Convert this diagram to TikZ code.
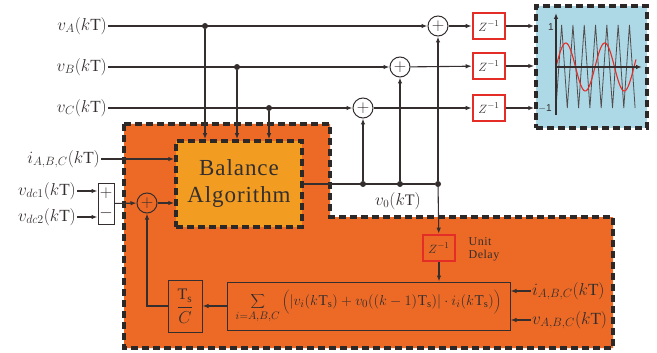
\documentclass[tikz,border=0pt]{standalone}
\usepackage{fontspec}
\setmainfont{Liberation Serif}
\setsansfont{Liberation Sans}
\usetikzlibrary{arrows.meta}
\definecolor{regionorange}{RGB}{236,106,38}
\definecolor{balorange}{RGB}{242,157,34}
\definecolor{plotblue}{RGB}{173,216,230}
\definecolor{zred}{RGB}{228,45,38}
\definecolor{wirecol}{RGB}{52,46,46}
\definecolor{dashcol}{RGB}{45,40,40}
\begin{document}
\begin{tikzpicture}[x=1pt, y=-1pt, >={Latex[length=6pt,width=4.5pt]},
      wire/.style={draw=wirecol, line width=1.1pt},
      dashbox/.style={draw=dashcol, line width=3.5pt, dash pattern=on 7pt off 4pt},
      lbl/.style={text=wirecol, inner sep=1pt, font=\fontsize{17}{20}\selectfont},
      zbox/.style={draw=zred, line width=2.6pt, fill=white, minimum width=32pt, minimum height=26pt, inner sep=0pt, text=wirecol, font=\fontsize{13}{15}\selectfont},
      sumnode/.style={circle, draw=wirecol, line width=1pt, minimum size=20pt, inner sep=0pt, text=wirecol, font=\fontsize{16}{16}\selectfont},
      dot/.style={circle, fill=wirecol, inner sep=0pt, minimum size=6pt},
      blockbox/.style={draw=wirecol, line width=1pt, inner sep=0pt, text=wirecol}]
    \useasboundingbox (0,0) rectangle (657,353);
    % shaded regions
    \draw[dashbox, fill=regionorange] (124,124) -- (330,124) -- (330,217) -- (613,217) -- (613,348) -- (124,348) -- cycle;
    \node[dashbox, fill=balorange, minimum width=126pt, minimum height=86pt, inner sep=0pt, align=center, text=wirecol,
          font=\fontsize{23}{27}\selectfont\addfontfeature{LetterSpace=4}] (bal) at (239,184) {Balance\\Algorithm};
    \node[dashbox, fill=plotblue, minimum width=111pt, minimum height=122pt, inner sep=0pt] (plot) at (591.5,67) {};
    % inputs
    \node[lbl, anchor=east] (vA) at (108,26)  {$v_A(k\mathrm{T})$};
    \node[lbl, anchor=east] (vB) at (108,67)  {$v_B(k\mathrm{T})$};
    \node[lbl, anchor=east] (vC) at (108,108) {$v_C(k\mathrm{T})$};
    \node[lbl, anchor=east] (iL) at (101,159) {$i_{A,B,C}(k\mathrm{T})$};
    \node[lbl, anchor=east] (vdc1) at (77,191) {$v_{dc1}(k\mathrm{T})$};
    \node[lbl, anchor=east] (vdc2) at (77,217) {$v_{dc2}(k\mathrm{T})$};
    \node[lbl, anchor=west] (iR) at (531,291) {$i_{A,B,C}(k\mathrm{T})$};
    \node[lbl, anchor=west] (vR) at (531,320) {$v_{A,B,C}(k\mathrm{T})$};
    % junctions
    \node[dot] (jA) at (205,26) {};
    \node[dot] (jB) at (237,67) {};
    \node[dot] (jC) at (269,108) {};
    \node[dot] (d0C) at (363,184) {};
    \node[dot] (d0B) at (400,184) {};
    \node[dot] (d0A) at (438,184) {};
    \node[lbl, font=\fontsize{16}{18}\selectfont] (v0) at (398,201) {$v_0(k\mathrm{T})$};
    % summing points and delays
    \node[sumnode] (sA) at (438,26) {$+$};
    \node[sumnode] (sB) at (400,67) {$+$};
    \node[sumnode] (sC) at (363,108) {$+$};
    \node[sumnode] (sL) at (147,203) {$+$};
    \node[zbox] (zA) at (489,26)  {$Z^{-1}$};
    \node[zbox] (zB) at (489,66)  {$Z^{-1}$};
    \node[zbox] (zC) at (489,108) {$Z^{-1}$};
    \node[zbox, fill=regionorange] (zD) at (439,248) {$Z^{-1}$};
    \node[text=wirecol, align=left, font=\fontsize{12}{13}\selectfont\addfontfeature{LetterSpace=4}] (ud) at (484,249) {Unit\\Delay};
    \node[blockbox, fill=white, minimum width=16pt, minimum height=41pt, align=center, font=\fontsize{17}{19}\selectfont] (pm) at (106,203.5) {$+$\\[1pt]$-$};
    \node[blockbox, minimum width=34pt, minimum height=52pt] (tsc) at (185,306) {\fontsize{16}{18}\selectfont$\displaystyle\frac{\mathrm{T_s}}{C}$};
    \node[blockbox, minimum width=283pt, minimum height=48pt] (sum) at (368.5,306)
      {\fontsize{15}{17}\selectfont$\displaystyle\sum_{i=A,B,C}\bigg(\Big|v_i(k\mkern1mu\mathrm{T_s})+v_0((k-1)\mkern1mu\mathrm{T_s})\Big|\cdot i_i(k\mkern1mu\mathrm{T_s})\bigg)$};
    % top signal paths
    \draw[wire, ->] (vA) -- (sA);
    \draw[wire, ->] (vB) -- (sB);
    \draw[wire, ->] (vC) -- (sC);
    \draw[wire, ->] (jA) -- (jA |- bal.north);
    \draw[wire, ->] (jB) -- (jB |- bal.north);
    \draw[wire, ->] (jC) -- (jC |- bal.north);
    \draw[wire] (bal.east |- d0A) -- (d0A);
    \draw[wire, ->] (d0A) -- (sA);
    \draw[wire, ->] (d0B) -- (sB);
    \draw[wire, ->] (d0C) -- (sC);
    \draw[wire, ->] (sA) -- (zA);
    \draw[wire, ->] (sB) -- (zB);
    \draw[wire, ->] (sC) -- (zC);
    \draw[wire, ->] (zA) -- (zA -| plot.west);
    \draw[wire, ->] (zB) -- (zB -| plot.west);
    \draw[wire, ->] (zC) -- (zC -| plot.west);
    % left inputs
    \draw[wire, ->] (iL) -- (iL -| bal.west);
    \draw[wire, ->] (vdc1) -- (vdc1 -| pm.west);
    \draw[wire, ->] (vdc2) -- (vdc2 -| pm.west);
    \draw[wire, ->] (pm) -- (sL);
    \draw[wire, ->] (sL) -- (sL -| bal.west);
    % delay loop
    \draw[wire, ->] (d0A) -- (zD);
    \draw[wire, ->] (zD) -- (zD |- sum.north);
    \draw[wire, ->] (iR) -- (iR -| sum.east);
    \draw[wire, ->] (vR) -- (vR -| sum.east);
    \draw[wire, ->] (sum) -- (tsc);
    \draw[wire, ->] (tsc.west) -| (sL.south);
    % carrier and reference waves
    \draw[wirecol!85, line width=0.8pt] (556,108) \foreach \i in {0,...,6} { -- ({561.65+11.3*\i},25) -- ({567.3+11.3*\i},108) };
    \draw[zred, line width=1.1pt] plot[domain=0:80, samples=90, smooth] ({556+\x}, {67-24*sin(\x/39*360)});
    \draw[wirecol, line width=1.6pt, ->] (556,115) -- (556,13);
    \draw[wirecol, line width=1.6pt, ->] (556,67) -- (642,67);
    \node[text=wirecol, font=\sffamily\fontsize{10}{11}\selectfont] (one) at (551,27) {1};
    \node[text=wirecol, font=\sffamily\fontsize{10}{11}\selectfont] (mone) at (545,108) {$-$1};
  \end{tikzpicture}
\end{document}
